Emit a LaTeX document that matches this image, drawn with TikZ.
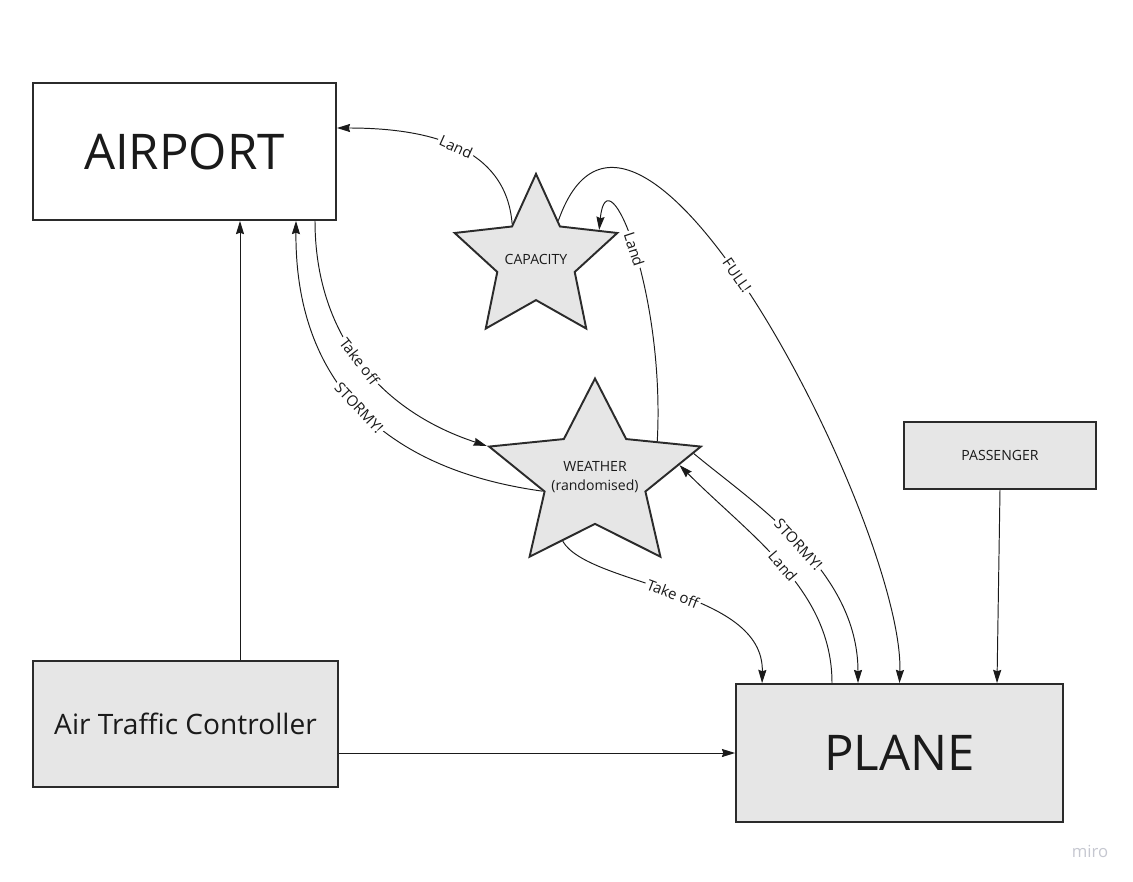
\documentclass[tikz,border=0pt]{standalone}
\usepackage{fontspec}
\usepackage{graphicx}
\setmainfont{Open Sans}
\usetikzlibrary{shapes.geometric, arrows.meta, calc}
\definecolor{boxfill}{HTML}{E6E6E6}
\definecolor{boxline}{HTML}{2B2B2B}
\definecolor{ink}{HTML}{1A1A1A}
\definecolor{wmark}{HTML}{C5C7D0}
% text that does not widen the star
\newcommand{\startext}[1]{\makebox[0pt]{#1}}

\begin{document}
\begin{tikzpicture}[x=0.02cm, y=-0.02cm,
  box/.style={rectangle, draw=boxline, line width=1.1pt, inner sep=0pt, text=ink},
  starbox/.style={star, star points=5, star point ratio=2.1, draw=boxline, line width=1.1pt,
    fill=boxfill, inner sep=0pt, text=ink, align=center, font=\fontsize{8}{11}\selectfont},
  link/.style={draw=ink, line width=0.55pt, -{Stealth[length=7.5pt, width=4.6pt, inset=0.8pt]}},
  tag/.style={sloped, fill=white, inner sep=1.2pt, text=ink, font=\fontsize{8.5}{10}\selectfont}]
  \useasboundingbox (0,0) rectangle (1133,882);

  % boxes
  \node (airport) [box, fill=white, minimum width=6.06cm, minimum height=2.74cm, font=\fontsize{28}{32}\selectfont] at (184.5, 151.5) {AIRPORT};
  \node (atc) [box, fill=boxfill, minimum width=6.1cm, minimum height=2.52cm, font=\fontsize{16}{19}\selectfont] at (185.5, 724) {Air Traffic Controller};
  \node (plane) [box, fill=boxfill, minimum width=6.54cm, minimum height=2.76cm, font=\fontsize{28}{32}\selectfont] at (899.5, 753) {PLANE};
  \node (passenger) [box, fill=boxfill, minimum width=3.84cm, minimum height=1.34cm, font=\fontsize{8}{10}\selectfont] at (1000, 455.5) {PASSENGER};

  % stars (the weather star is a little wider than a regular one)
  \node (cap) [starbox, minimum size=3.42cm] at (536, 259.4) {\startext{CAPACITY}};
  \begin{scope}[shift={(595, 477)}, xscale=1.13]
    \node (weather) [starbox, transform shape, minimum size=3.94cm] at (0, 0)
      {\scalebox{0.885}[1]{\startext{WEATHER}}\\\scalebox{0.885}[1]{\startext{(randomised)}}};
  \end{scope}

  \node (wm) [text=wmark, font=\fontsize{9.5}{11}\selectfont] at (1090, 851) {miro};

  % straight links
  \draw[link] ($(atc.north)+(54.5,0)$) -- ($(airport.south)+(55.5,0)$);
  \draw[link] ($(atc.east)+(0,29)$) -- (plane.west);
  \draw[link] (passenger.south) -- ($(plane.north)+(97.5,0)$);

  % curved links
  \draw[link] (cap.124) .. controls +(-6,-78) and +(90,0) .. ($(airport.east)+(0,-23.5)$) node[tag, pos=0.5] {Land};
  \draw[link] (cap.60) .. controls +(78,-221) and +(5,-154) .. (plane.north) node[tag, pos=0.45] {FULL!};
  \draw[link] (weather.33) .. controls +(8,-150) and +(8,-80) .. (cap.25) node[tag, pos=0.5] {Land};
  \draw[link] ($(airport.south)+(130.5,0)$) .. controls +(0,110) and +(-110,-36) .. (weather.162) node[tag, pos=0.5] {Take off};
  \draw[link] (weather.197) .. controls +(-160,-22) and +(-1,160) .. ($(airport.south)+(111.5,0)$) node[tag, pos=0.5] {STORMY!};
  \draw[link] (weather.246) .. controls +(26,45) and +(2,-94) .. ($(plane.north west)+(27,0)$) node[tag, pos=0.5] {Take off};
  \draw[link] (weather.15) .. controls +(60,50) and +(0,-113) .. ($(plane.north)+(-41.5,0)$) node[tag, pos=0.5] {STORMY!};
  \draw[link] ($(plane.north)+(-67.5,0)$) .. controls +(0,-93) and +(72,72) .. (weather.9) node[tag, pos=0.5] {Land};
\end{tikzpicture}
\end{document}
